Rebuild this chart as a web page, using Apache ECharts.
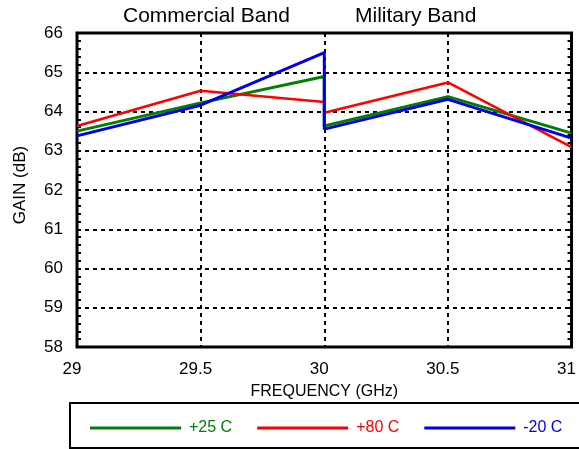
<!DOCTYPE html>
<html>
<head>
<meta charset="utf-8">
<script src="https://cdn.jsdelivr.net/npm/echarts@6/dist/echarts.min.js"></script>
<style>
html,body{margin:0;padding:0;background:#fff;}
#chart{width:579px;height:449px;}
</style>
</head>
<body>
<div id="chart"></div>
<script>
// Data
var frequencies = [29, 29.5, 30, 30, 30.5, 31];
var gainPlus25 = [63.50, 64.22, 64.89, 63.63, 64.38, 63.45];
var gainPlus80 = [63.63, 64.53, 64.24, 63.97, 64.74, 63.09];
var gainMinus20 = [63.38, 64.16, 65.50, 63.55, 64.31, 63.32];
var seriesNames = ['+25 C', '+80 C', '-20 C'];
var seriesColors = ['#008000', '#ff0000', '#0000e6'];
var bandTitles = ['Commercial Band', 'Military Band'];

function pairs(ys) {
  return frequencies.map(function (f, i) { return [f, ys[i]]; });
}

var FONT = '"Liberation Sans", Arial, Helvetica, sans-serif';
var chart = echarts.init(document.getElementById('chart'), null, {renderer: 'canvas'});
var allData = [gainPlus25, gainPlus80, gainMinus20];

var option = {
  animation: false,
  backgroundColor: '#fff',
  textStyle: {fontFamily: FONT},
  grid: {
    left: 77, right: 6, top: 33, bottom: 102,
    show: true, borderColor: '#000', borderWidth: 3, backgroundColor: 'transparent'
  },
  graphic: [
    {type: 'text', left: 208 - 85, top: 6, style: {text: bandTitles[0], font: '21px ' + FONT, fill: '#000'}},
    {type: 'text', left: 417 - 62, top: 6, style: {text: bandTitles[1], font: '21px ' + FONT, fill: '#000'}},
    {type: 'rect', shape: {x: 70, y: 403, width: 600, height: 45}, style: {fill: 'none', stroke: '#000', lineWidth: 2}}
  ],
  legend: {
    left: 90, top: 420, padding: 0,
    icon: 'rect', itemWidth: 91, itemHeight: 3, itemGap: 25,
    textStyle: {fontSize: 16, fontFamily: FONT, padding: [0, 0, 0, 3]},
    data: seriesNames.map(function (n, i) {
      return {name: n, textStyle: {color: seriesColors[i]}};
    })
  },
  xAxis: {
    type: 'value', min: 29, max: 31, interval: 0.5,
    name: 'FREQUENCY (GHz)', nameLocation: 'middle', nameGap: 37,
    nameTextStyle: {fontSize: 16, color: '#000', fontFamily: FONT},
    axisLine: {show: false},
    axisTick: {show: false},
    axisLabel: {fontSize: 17, color: '#000', margin: 14, fontFamily: FONT, padding: [0, 10, 0, 0]},
    splitLine: {show: true, lineStyle: {color: '#000', width: 2, type: [4, 4]}}
  },
  yAxis: [
    {
      type: 'value', min: 58, max: 66, interval: 1, position: 'left',
      name: 'GAIN (dB)', nameLocation: 'middle', nameGap: 48,
      nameTextStyle: {fontSize: 17, color: '#000', fontFamily: FONT, padding: [0, 0, 0, 10]},
      axisLine: {show: false},
      axisTick: {show: true, inside: true, length: 4, lineStyle: {color: '#000', width: 2}},
      minorTick: {show: true, splitNumber: 5, length: 4, lineStyle: {color: '#000', width: 2}},
      axisLabel: {fontSize: 17, color: '#000', margin: 14, fontFamily: FONT},
      splitLine: {show: true, lineStyle: {color: '#000', width: 2, type: [4, 4]}}
    },
    {
      type: 'value', min: 58, max: 66, interval: 1, position: 'right',
      axisLine: {show: false},
      axisTick: {show: true, inside: true, length: 4, lineStyle: {color: '#000', width: 2}},
      minorTick: {show: true, splitNumber: 5, length: 4, lineStyle: {color: '#000', width: 2}},
      axisLabel: {show: false},
      splitLine: {show: false}
    }
  ],
  series: seriesNames.map(function (n, i) {
    return {
      name: n, type: 'line', yAxisIndex: 0,
      data: pairs(allData[i]),
      symbol: 'none', smooth: false,
      color: seriesColors[i],
      lineStyle: {color: seriesColors[i], width: i === 1 ? 2.5 : 3},
      z: 3 + i
    };
  })
};
chart.setOption(option);
</script>
</body>
</html>
